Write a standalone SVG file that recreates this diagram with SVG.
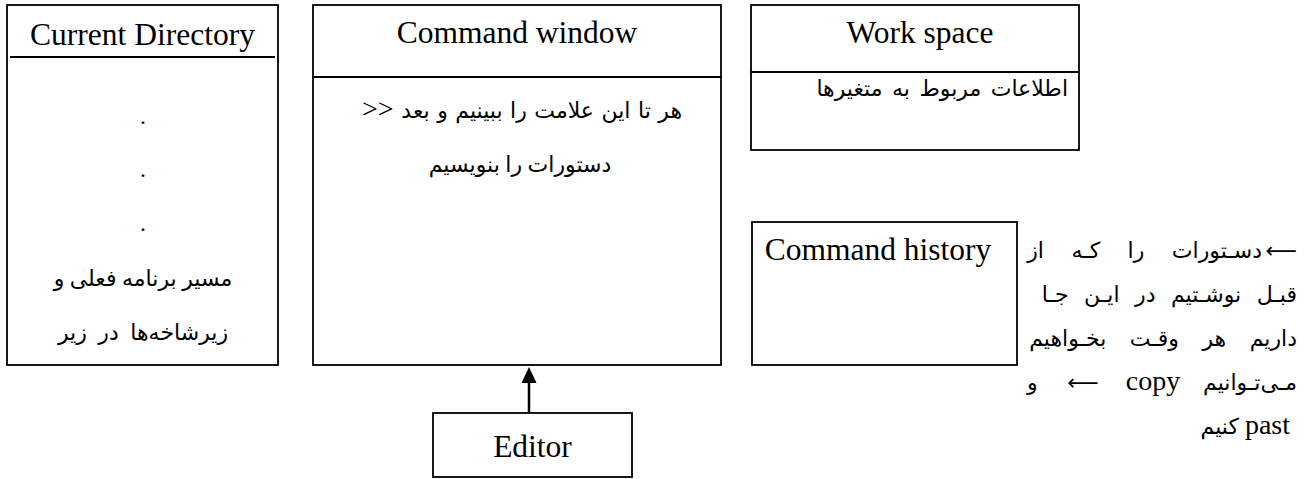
<svg xmlns="http://www.w3.org/2000/svg" width="1305" height="479" viewBox="0 0 1305 479">
  <style>
    .box { fill: #ffffff; stroke: #000000; stroke-width: 1.8; }
    .rule { stroke: #000000; stroke-width: 1.8; }
    .title { font-family: "Liberation Serif", "Times New Roman", serif; font-size: 31.5px; fill: #000; }
    .fa { font-family: "Liberation Serif", "DejaVu Sans", serif; font-size: 22px; fill: #000; }
    .latin { font-family: "Liberation Serif", serif; font-size: 28px; fill: #000; }
    .sym { font-family: "DejaVu Sans", sans-serif; font-size: 22px; fill: #000; }
    .dot { font-family: "Liberation Serif", serif; font-size: 24px; fill: #000; }
    .link { stroke: #000000; stroke-width: 2.5; fill: none; }
    .tip { fill: #000000; }
  </style>

  <rect width="1305" height="479" fill="#ffffff"/>

  <!-- Current Directory panel -->
  <g id="current-directory">
    <rect class="box" x="7" y="5" width="271" height="360"/>
    <line class="rule" x1="10" y1="57" x2="275" y2="57"/>
    <text class="title" x="142.5" y="45" text-anchor="middle">Current Directory</text>
    <text class="dot" x="143" y="124" text-anchor="middle">.</text>
    <text class="dot" x="143" y="177" text-anchor="middle">.</text>
    <text class="dot" x="143" y="231" text-anchor="middle">.</text>
    <text class="fa" x="143" y="286" text-anchor="middle" font-size="21">مسیر برنامه فعلی و</text>
    <text class="fa" x="143" y="340" text-anchor="middle" word-spacing="6">زیرشاخه&#x200C;ها در زیر</text>
  </g>

  <!-- Command window panel: the prompt sign sits at the left end of the right-to-left line -->
  <g id="command-window">
    <rect class="box" x="313" y="5" width="408" height="360"/>
    <line class="rule" x1="313" y1="77" x2="721" y2="77"/>
    <text class="title" x="517" y="43" text-anchor="middle">Command window</text>
    <text class="latin" x="362" y="118" font-size="24">&gt;&gt;</text>
    <text class="fa" x="682" y="118" text-anchor="end" font-size="23" word-spacing="2">هر تا این علامت را ببینیم و بعد</text>
    <text class="fa" x="520" y="172" text-anchor="middle">دستورات را بنویسیم</text>
  </g>

  <!-- Work space panel -->
  <g id="work-space">
    <rect class="box" x="751" y="5" width="328" height="145"/>
    <line class="rule" x1="751" y1="72" x2="1079" y2="72"/>
    <text class="title" x="920" y="43" text-anchor="middle">Work space</text>
    <text class="fa" x="1068" y="96" text-anchor="end" font-size="23" word-spacing="4">اطلاعات مربوط به متغیرها</text>
  </g>

  <!-- Command history panel -->
  <g id="command-history">
    <rect class="box" x="752" y="222" width="265" height="143"/>
    <text class="title" x="878" y="260" text-anchor="middle">Command history</text>
  </g>

  <!-- Editor -->
  <g id="editor">
    <rect class="box" x="433" y="413" width="199" height="64"/>
    <text class="title" x="532.5" y="457" text-anchor="middle">Editor</text>
  </g>

  <!-- Notes beside the command history: justified right-to-left lines, Latin words and arrows placed on their own -->
  <g id="history-note">
    <text class="sym" x="1297" y="258" text-anchor="end">⟵</text>
    <text class="fa" x="1262" y="258" text-anchor="end" word-spacing="22">دسـتورات را کـه از</text>
    <text class="fa" x="1297" y="302" text-anchor="end" word-spacing="10">قبـل نوشـتیم در ایـن جـا</text>
    <text class="fa" x="1297" y="346" text-anchor="end" word-spacing="18">داریم هر وقـت بخـواهیم</text>
    <text class="fa" x="1297" y="390" text-anchor="end">مـی&#x200C;تـوانیم</text>
    <text class="latin" x="1153" y="390" text-anchor="middle">copy</text>
    <text class="sym" x="1083" y="390" text-anchor="middle">⟵</text>
    <text class="fa" x="1027" y="390">و</text>
    <text class="latin" x="1290" y="434" text-anchor="end">past</text>
    <text class="fa" x="1239" y="434" text-anchor="end">کنیم</text>
  </g>

  <!-- Connectors -->
  <g id="connectors">
    <line class="link" x1="529" y1="413" x2="529" y2="381"/>
    <polygon class="tip" points="529,367 521.5,383 536.5,383"/>
  </g>
</svg>
